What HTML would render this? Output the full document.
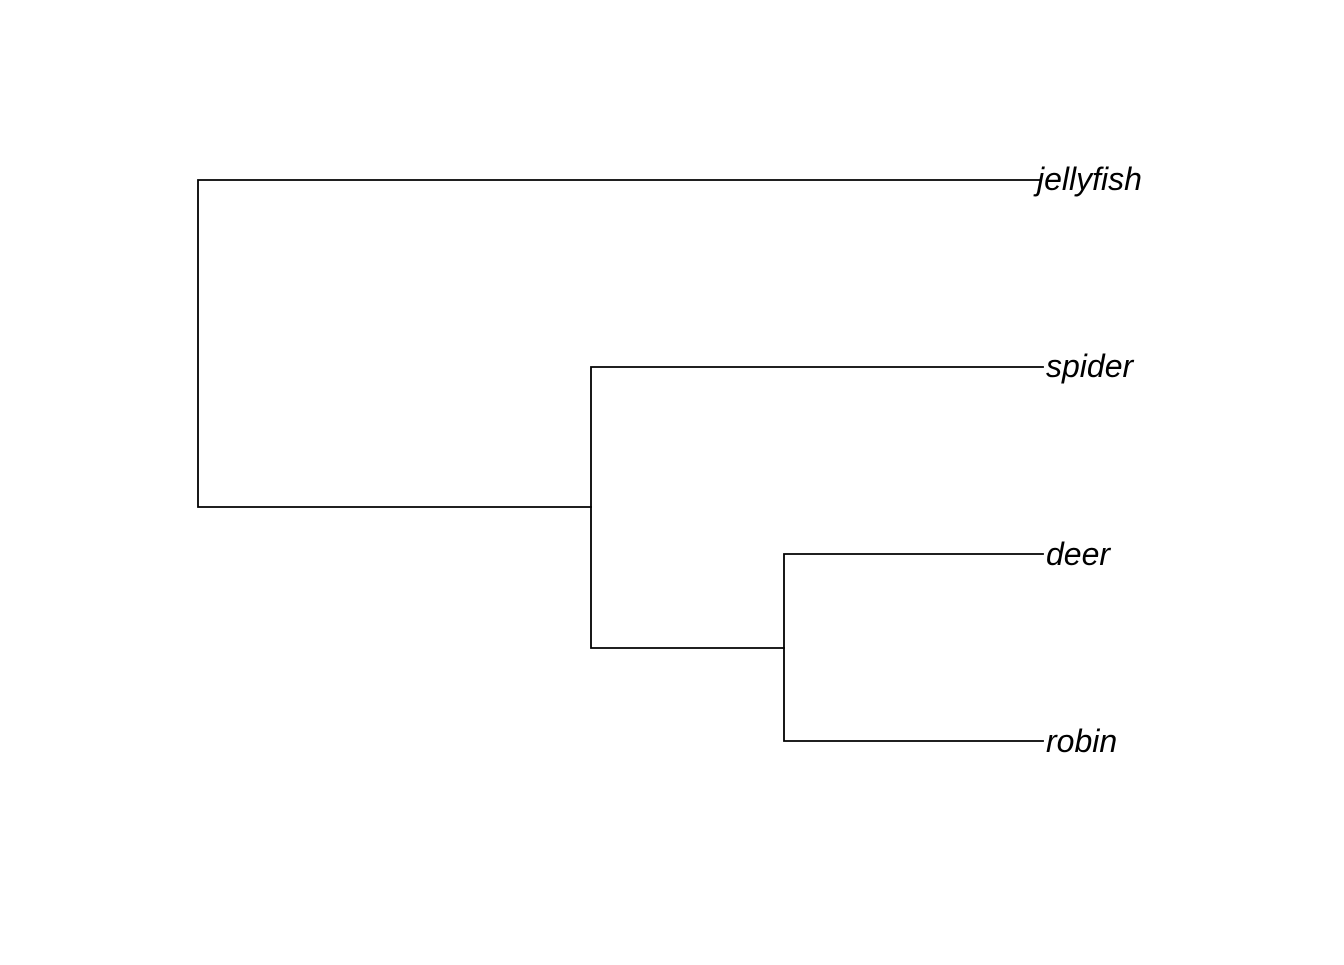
<!DOCTYPE html>
<html><head><style>html,body{margin:0;padding:0;background:#fff;}</style></head>
<body>
<svg width="1344" height="960" xmlns="http://www.w3.org/2000/svg">
<g stroke="#000" stroke-width="1.8" fill="none" stroke-linecap="square">
<path d="M1040,180 H198 V507 H591"/>
<path d="M1043,367 H591 V648 H784"/>
<path d="M1043,554 H784 V741 H1043"/>
</g>
<g font-family="Liberation Sans, sans-serif" font-style="italic" font-size="32" fill="#000">
<text x="1037" y="190">jellyfish</text>
<text x="1046" y="377">spider</text>
<text x="1046" y="565">deer</text>
<text x="1046" y="752">robin</text>
</g>
</svg>
</body></html>
